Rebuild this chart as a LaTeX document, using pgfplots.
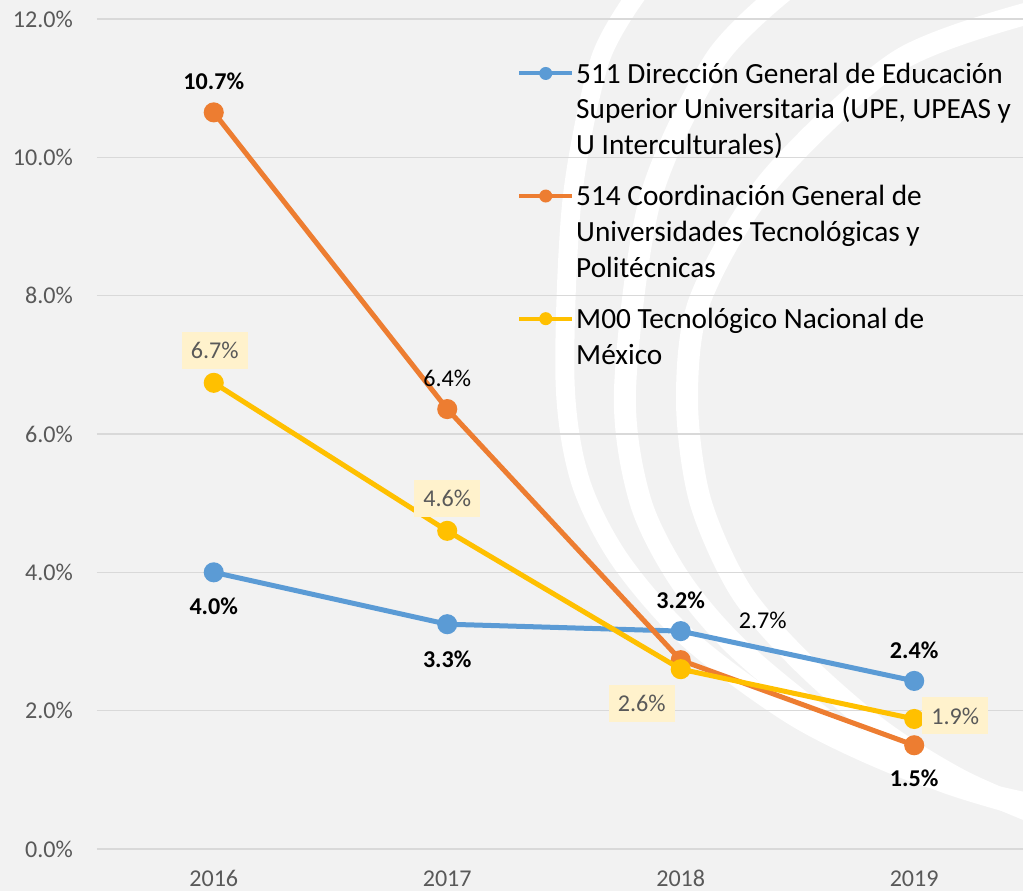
\documentclass[border=0pt]{standalone}
\usepackage{fontspec}
\setmainfont{Carlito}
\usepackage{pgfplots}
\pgfplotsset{compat=1.18}
\definecolor{bg}{HTML}{F2F2F2}
\definecolor{gridc}{HTML}{D9D9D9}
\definecolor{tickc}{HTML}{595959}
\definecolor{sblue}{HTML}{5B9BD5}
\definecolor{sorange}{HTML}{ED7D31}
\definecolor{syellow}{HTML}{FFC000}
\definecolor{lblfill}{HTML}{FFF2CC}
\begin{document}
\begin{tikzpicture}[x=1bp,y=1bp]
\useasboundingbox (-97,-42) rectangle (926,849);
\fill[bg] (-97,-42) rectangle (926,849);
\begin{scope}
\clip (-97,-42) rectangle (926,849);
\draw[white, line width=19bp] plot[smooth] coordinates {(543,859) (503,789) (475,649) (468,469) (483,369) (523,289) (593,209) (703,129) (823,74) (943,44)};
\draw[white, line width=22bp] plot[smooth] coordinates {(688,859) (618,789) (553,649) (528,459) (543,349) (583,269) (643,199) (743,119) (843,69) (943,39)};
\draw[white, line width=22bp] plot[smooth] coordinates {(943,839) (803,789) (673,669) (603,549) (590,449) (603,349) (643,259) (703,189) (783,119) (863,69) (943,34)};
\end{scope}
\begin{axis}[
  at={(0,0)}, anchor=south west,
  scale only axis, width=926bp, height=830bp,
  xmin=-0.5, xmax=3.466, ymin=0, ymax=12,
  axis line style={draw=none},
  major tick length=0pt,
  xtick={0,1,2,3}, xticklabels={2016,2017,2018,2019},
  ytick={0,2,4,6,8,10,12},
  ymajorgrids, grid style={gridc, line width=1.5bp},
  /pgf/number format/assume math mode=true,
  yticklabel={\pgfmathprintnumber[fixed,fixed zerofill,precision=1]{\tick}\%},
  tick label style={font=\fontsize{24.2}{29}\selectfont, text=tickc},
  yticklabel style={anchor=east, inner sep=0pt, xshift=-24bp},
  xticklabel style={anchor=base, inner sep=0pt, yshift=-37.5bp},
  clip mode=individual,
  legend cell align=left,
  legend style={at={(0.4536,0.950)}, anchor=north west, draw=none, fill=none,
    font=\fontsize{29.4}{36}\selectfont, row sep=25bp, inner sep=0pt,
    nodes={inner sep=2bp, text=black}, cells={align=left}},
  legend image code/.code={\draw[#1, line width=4bp] (0bp,0bp) -- (53bp,0bp);
    \fill[#1, draw=none] (26.5bp,0bp) circle (6.5bp);},
  every axis plot/.append style={line width=5bp, mark=*, mark size=7.5bp,
    nodes near coords, point meta=explicit symbolic,
    visualization depends on={value \thisrow{dx}\as\dx},
    visualization depends on={value \thisrow{dy}\as\dy}},
  nodes near coords style={anchor=center, xshift={\dx*1bp}, yshift={\dy*1bp},
    font=\fontsize{24.2}{29}\selectfont, text=black, inner sep=0pt},
]
\addplot[sblue, mark options={draw=none, fill=sblue},
  legend image post style={yshift=36bp}] table[x=x, y=y, meta=lab] {
x y dx dy lab
0 4.00 0 -34 \textbf{4.0\%}
1 3.25 0 -35 \textbf{3.3\%}
2 3.15 0 31 \textbf{3.2\%}
3 2.43 0 31 \textbf{2.4\%}
};
\addlegendentry{511 Dirección General de Educación\\Superior Universitaria (UPE, UPEAS y\\U Interculturales)}
\addplot[sorange, mark options={draw=none, fill=sorange},
  legend image post style={yshift=36bp}] table[x=x, y=y, meta=lab] {
x y dx dy lab
0 10.65 0 31 \textbf{10.7\%}
1 6.36 0 31 6.4\%
2 2.73 82 40 2.7\%
3 1.50 0 -33 \textbf{1.5\%}
};
\addlegendentry{514 Coordinación General de\\Universidades Tecnológicas y\\Politécnicas}
\addplot[syellow, mark options={draw=none, fill=syellow},
  legend image post style={yshift=18bp},
  nodes near coords style={fill=lblfill, text=tickc, inner xsep=9bp, minimum height=37bp}] table[x=x, y=y, meta=lab] {
x y dx dy lab
0 6.74 1 32 6.7\%
1 4.60 0 32 4.6\%
2 2.60 -39 -34 2.6\%
3 1.88 41 3 1.9\%
};
\addlegendentry{M00 Tecnológico Nacional de\\México}
\end{axis}
\end{tikzpicture}
\end{document}
